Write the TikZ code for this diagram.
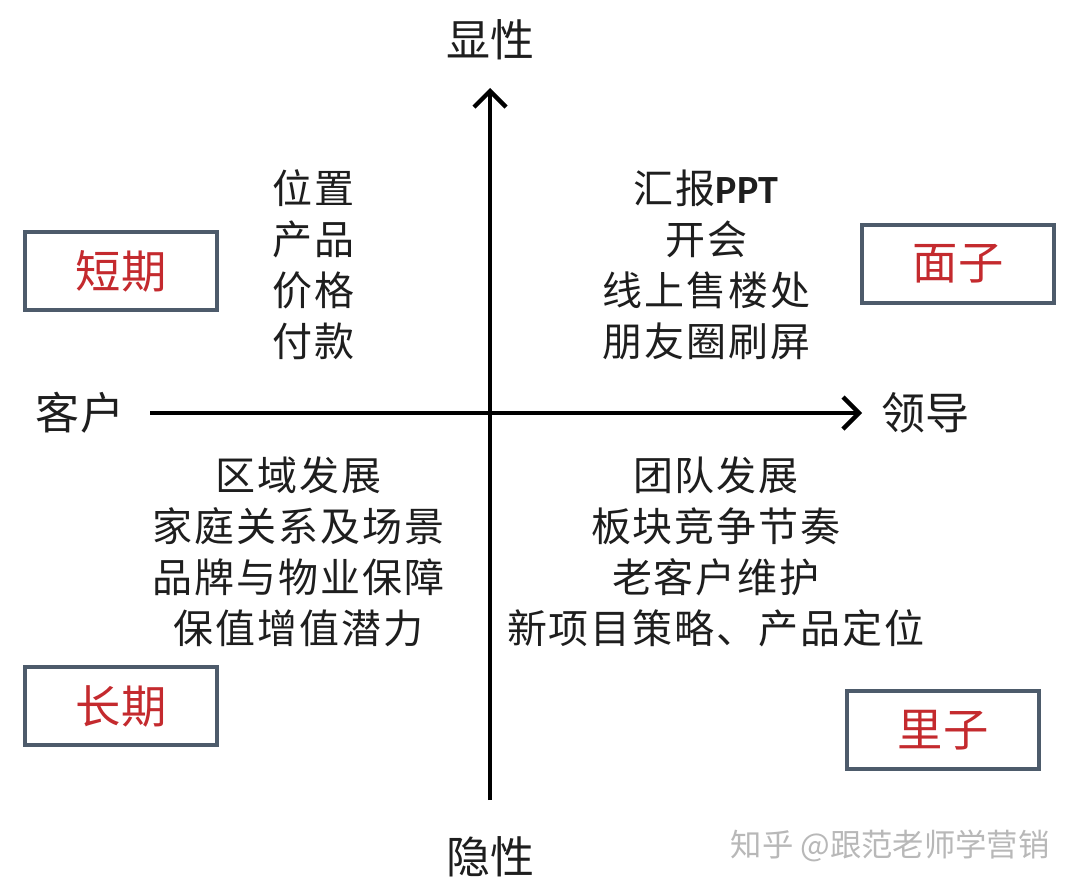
\documentclass[tikz,border=0pt]{standalone}
\usepackage{fontspec}
\setmainfont{Noto Sans CJK SC}
\newfontfamily\latinb{Carlito}
\newfontfamily\quadfont[LetterSpace=5]{Noto Sans CJK SC}
\usetikzlibrary{arrows.meta}
\definecolor{boxline}{HTML}{4D5B6B}
\definecolor{boxred}{HTML}{C42A2E}
\definecolor{txt}{HTML}{1E1E1E}
\definecolor{wm}{HTML}{B8B8B8}
\tikzset{
  axis/.style={line width=3.2pt, draw=black, -{Straight Barb[length=12pt,width=24pt,line width=3.2pt]}},
  axislabel/.style={font=\fontsize{33}{40}\selectfont, text=txt, inner sep=0pt},
  quad/.style={font=\quadfont\fontsize{30}{38.2}\selectfont, text=txt, align=center, inner sep=0pt},
  tagbox/.style={draw=boxline, line width=3pt, minimum width=144pt, minimum height=59pt, inner sep=0pt,
    font=\fontsize{34}{40}\selectfont, text=boxred},
  watermark/.style={font=\fontsize{23.5}{28}\selectfont, text=wm, inner sep=0pt}
}
\begin{document}
\begin{tikzpicture}[x=0.75pt,y=-0.75pt]
\useasboundingbox[fill=white] (0,0) rectangle (1080,891);
% axes
\coordinate (vbot) at (490,800);
\coordinate (vtop) at (490,88);
\coordinate (hleft) at (150,413);
\coordinate (hright) at (862,413);
\draw[axis] (vbot) -- (vtop);
\draw[axis, line width=2.6pt] (hleft) -- (hright);
% axis labels
\node[axislabel] (xian) at (490,40) {显性};
\node[axislabel] (yin) at (490,857) {隐性};
\node[axislabel] (kehu) at (80,413) {客户};
\node[axislabel] (lingdao) at (925,413) {领导};
% quadrant texts
\node[quad] (tl) at (313,265) {位置\\产品\\价格\\付款};
\node[quad] (tr) at (706,265) {汇报{\latinb\bfseries PPT}\\开会\\线上售楼处\\朋友圈刷屏};
\node[quad] (bl) at (298,552) {区域发展\\家庭关系及场景\\品牌与物业保障\\保值增值潜力};
\node[quad] (br) at (716,552) {团队发展\\板块竞争节奏\\老客户维护\\新项目策略、产品定位};
% tag boxes
\node[tagbox] (duanqi) at (121,271) {短期};
\node[tagbox] (mianzi) at (958,264) {面子};
\node[tagbox] (changqi) at (121,706) {长期};
\node[tagbox] (lizi) at (943,730) {里子};
% watermark
\node[watermark] (wmk) at (890,846) {知乎 @跟范老师学营销};
\end{tikzpicture}
\end{document}
